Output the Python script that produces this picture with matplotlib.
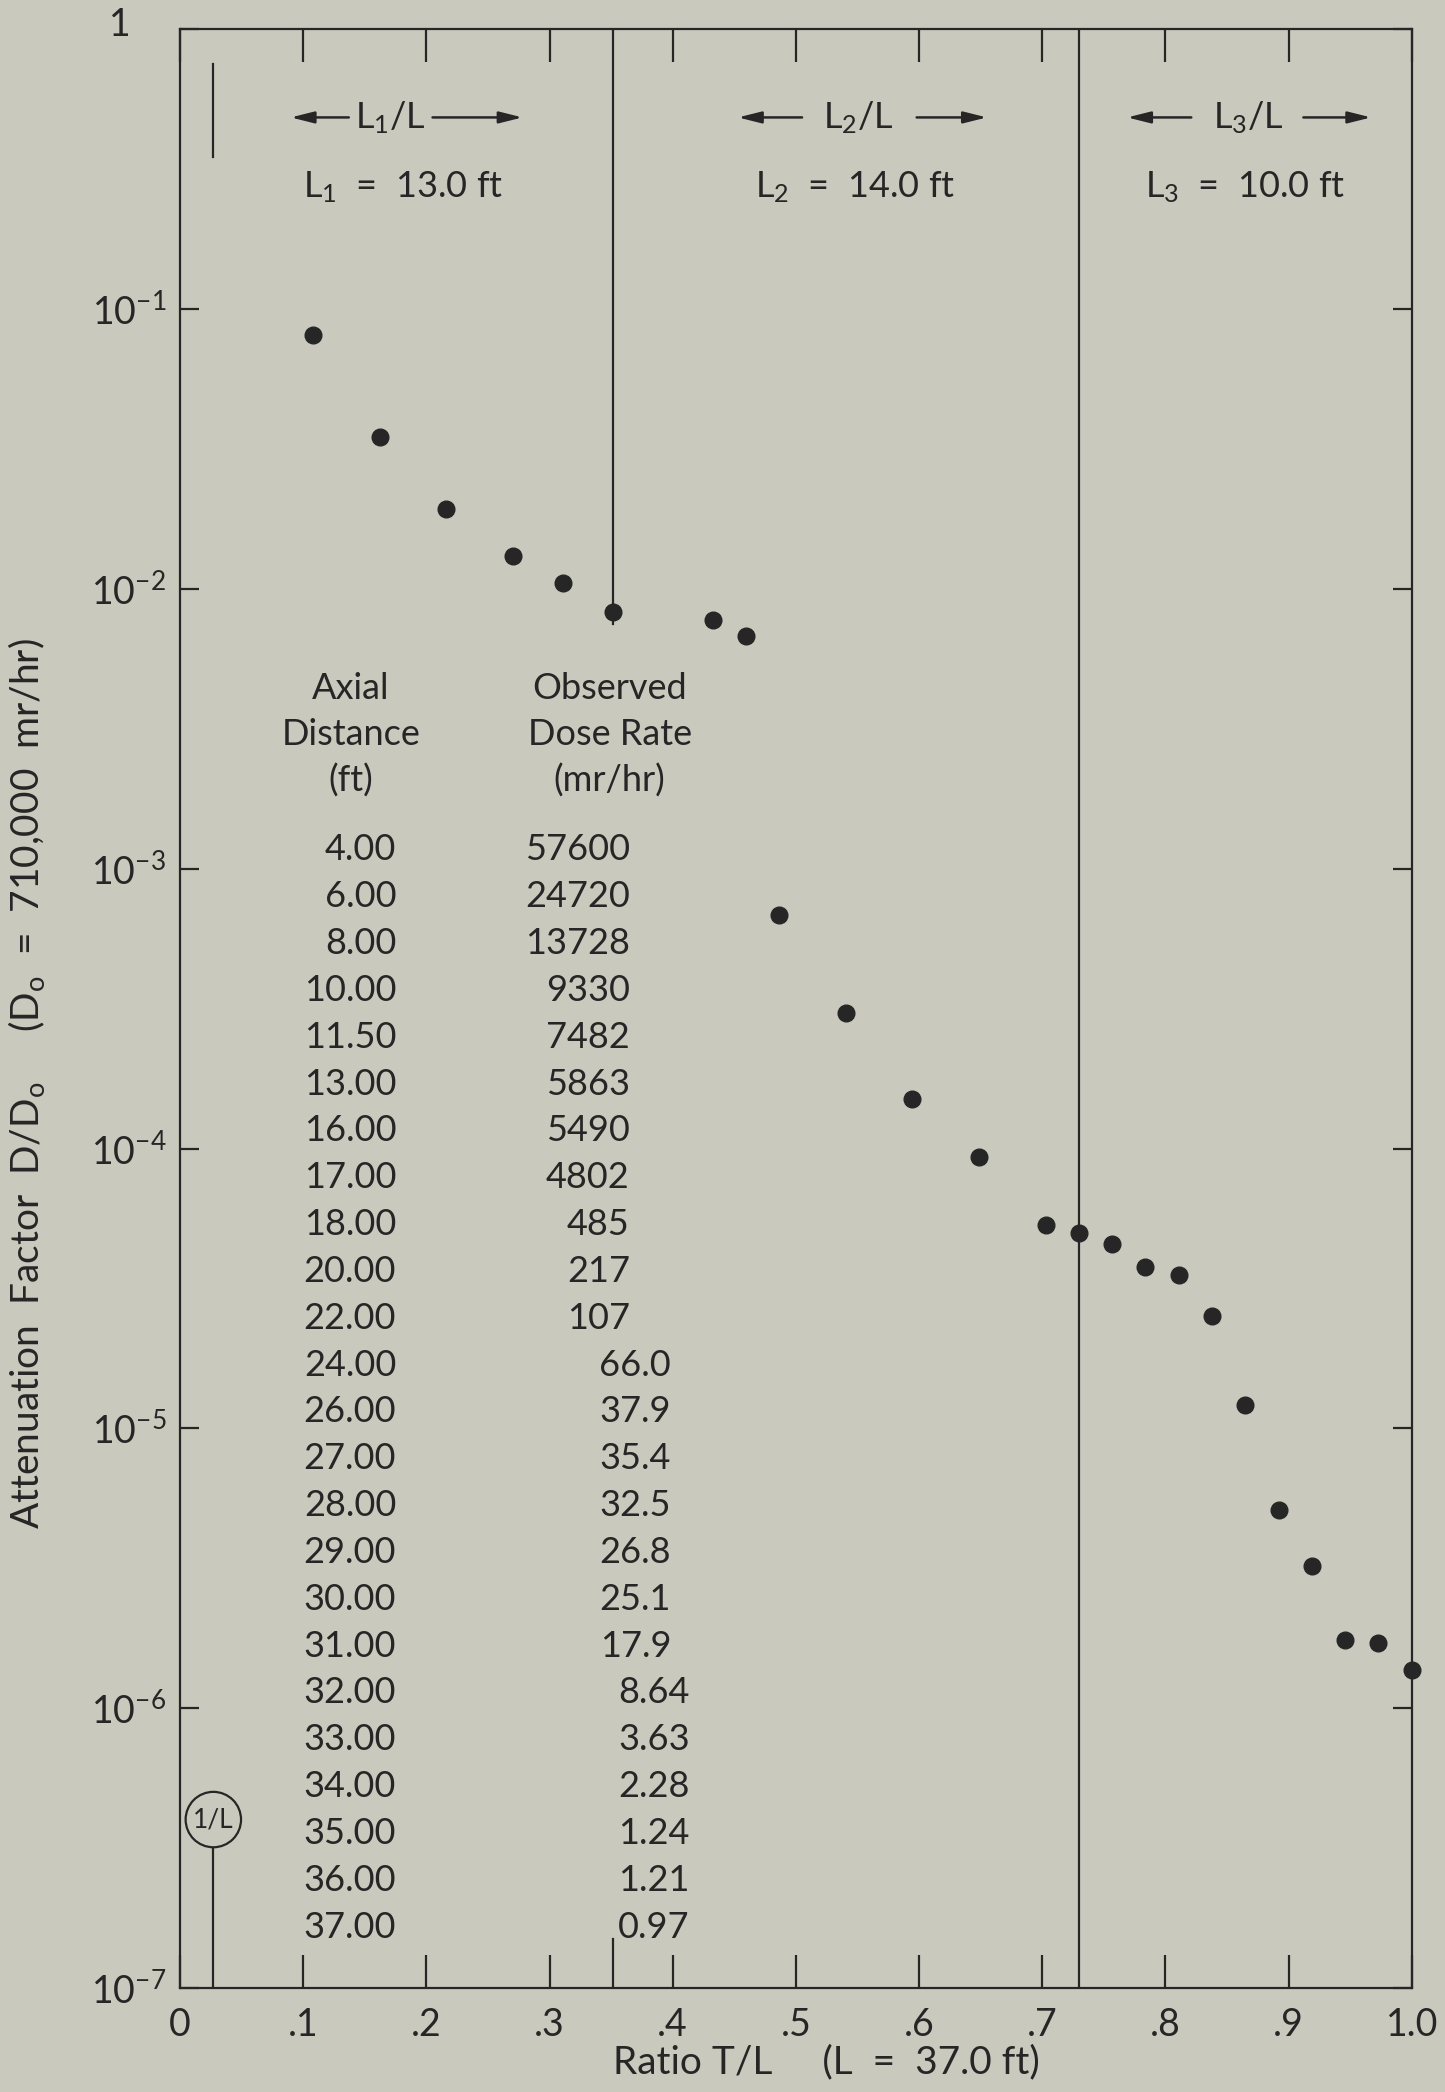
import matplotlib
matplotlib.use("Agg")
import matplotlib.pyplot as plt

plt.rcParams['font.family'] = ['Lato', 'DejaVu Sans']
plt.rcParams['mathtext.default'] = 'regular'

# Measurement data
axial_ft = [4.00, 6.00, 8.00, 10.00, 11.50, 13.00, 16.00, 17.00, 18.00, 20.00,
            22.00, 24.00, 26.00, 27.00, 28.00, 29.00, 30.00, 31.00, 32.00, 33.00,
            34.00, 35.00, 36.00, 37.00]
dose_rate_text = ["57600", "24720", "13728", "9330", "7482", "5863", "5490", "4802",
                  "485", "217", "107", "66.0", "37.9", "35.4", "32.5", "26.8",
                  "25.1", "17.9", "8.64", "3.63", "2.28", "1.24", "1.21", "0.97"]
dose_rate = [float(s) for s in dose_rate_text]

L_total = 37.0          # ft
D0 = 710000.0           # mr/hr
section_lengths = [13.0, 14.0, 10.0]
section_names = ["1", "2", "3"]

x_ticks = [0, 0.1, 0.2, 0.3, 0.4, 0.5, 0.6, 0.7, 0.8, 0.9, 1.0]
x_tick_labels = ["0", ".1", ".2", ".3", ".4", ".5", ".6", ".7", ".8", ".9", "1.0"]
y_ticks = [1e-7, 1e-6, 1e-5, 1e-4, 1e-3, 1e-2, 1e-1, 1]
y_tick_labels = [r"$10^{-7}$", r"$10^{-6}$", r"$10^{-5}$", r"$10^{-4}$",
                 r"$10^{-3}$", r"$10^{-2}$", r"$10^{-1}$", ""]

BG = "#c9cabd"
INK = "#262626"

ratio = [d / L_total for d in axial_ft]
atten = [r / D0 for r in dose_rate]

fig = plt.figure(figsize=(14.45, 20.92), dpi=100)
fig.patch.set_facecolor(BG)
ax = fig.add_axes([0.1246, 0.0497, 0.977 - 0.1246, 0.986 - 0.0497])
ax.set_facecolor(BG)

ax.set_yscale('log')
ax.set_xlim(0, 1.0)
ax.set_ylim(1e-7, 1)

for s in ax.spines.values():
    s.set_linewidth(1.6)
    s.set_color(INK)

ax.set_xticks(x_ticks)
ax.set_xticklabels(x_tick_labels)
ax.set_yticks(y_ticks)
ax.set_yticklabels(y_tick_labels)
ax.minorticks_off()
ax.tick_params(axis='x', which='major', direction='in', length=24, width=1.6,
               top=True, bottom=True, labelsize=27, pad=14, colors=INK)
ax.tick_params(axis='y', which='major', direction='in', length=14, width=1.6,
               left=True, right=True, labelsize=27, pad=10, colors=INK)
# the top decade is labelled plainly, set further out
ax.text(-0.049, 1.002, "1", transform=ax.transAxes, ha='center', va='center',
        fontsize=27, color=INK)

# data points
ax.plot(ratio, atten, 'o', color=INK, ms=12, zorder=5, clip_on=False)

# section boundaries: first one drawn down to its end-of-section reading,
# with a longer tick marking it on the ratio axis
b1 = section_lengths[0] / L_total
b2 = (section_lengths[0] + section_lengths[1]) / L_total
ax.plot([b1, b1], [1, 7.5e-3], color=INK, lw=1.6)
ax.plot([b1, b1], [1e-7, 1.5e-7], color=INK, lw=1.6)
ax.axvline(b2, color=INK, lw=1.6)

# 1/L markers
x1 = 1.0 / L_total
ax.plot([x1, x1], [0.75, 0.35], color=INK, lw=1.6)
ax.plot([x1, x1], [1e-7, 3.8e-7], color=INK, lw=1.6, zorder=2)
ax.text(x1, 4.0e-7, "1/L", ha='center', va='center', fontsize=19, color=INK, zorder=3,
        bbox=dict(boxstyle='circle,pad=0.28', fc=BG, ec=INK, lw=1.6))

# section headers with arrows
arrow_y = 0.955
label_y = 0.9196
arrow_spans = [(0.0899, 0.137, 0.205, 0.278),
               (0.453, 0.505, 0.598, 0.655),
               (0.769, 0.821, 0.912, 0.967)]
header_x = [0.171, 0.551, 0.867]
value_x = [0.181, 0.548, 0.865]
for name, Ls, (lt, lo, ro, rt), hx, vx in zip(section_names, section_lengths,
                                              arrow_spans, header_x, value_x):
    ap = dict(arrowstyle='-|>,head_length=1.4,head_width=0.35', color=INK, lw=1.8,
              shrinkA=0, shrinkB=0)
    ax.annotate('', xy=(lt, arrow_y), xytext=(lo, arrow_y),
                xycoords='axes fraction', textcoords='axes fraction', arrowprops=ap)
    ax.annotate('', xy=(rt, arrow_y), xytext=(ro, arrow_y),
                xycoords='axes fraction', textcoords='axes fraction', arrowprops=ap)
    ax.text(hx, arrow_y, r"$L_{%s}/L$" % name, transform=ax.transAxes,
            ha='center', va='center', fontsize=26, color=INK)
    ax.text(vx, label_y, r"$L_{%s}$  =  %.1f ft" % (name, Ls), transform=ax.transAxes,
            ha='center', va='center', fontsize=26, color=INK)

# data table
def fx(xs):
    return (xs - 135.0) / 923.0

def fy(ys):
    return 1.0 - (ys - 22.0) / 1468.0

tkw = dict(transform=ax.transAxes, fontsize=26, color=INK, va='center')
for i, line in enumerate(["Axial", "Distance", "(ft)"]):
    ax.text(fx(263), fy(516 + 34.5 * i), line, ha='center', **tkw)
for i, line in enumerate(["Observed", "Dose Rate", "(mr/hr)"]):
    ax.text(fx(457), fy(516 + 34.5 * i), line, ha='center', **tkw)

right_edge = {0: 472, 1: 503, 2: 517}
for i, (d, s) in enumerate(zip(axial_ft, dose_rate_text)):
    ys = 637 + i * 35.1
    ax.text(fx(297), fy(ys), "%.2f" % d, ha='right', **tkw)
    ndec = len(s.split('.')[1]) if '.' in s else 0
    ax.text(fx(right_edge[ndec]), fy(ys), s, ha='right', **tkw)

# axis titles
fig.text(0.572, 0.0143, "Ratio T/L     (L  =  37.0 ft)", ha='center', va='center',
         fontsize=28, color=INK)
fig.text(0.0185, 0.482, r"Attenuation  Factor  D/D$_o$     (D$_o$  =  710,000  mr/hr)",
         rotation=90, ha='center', va='center', fontsize=28, color=INK)

fig.savefig("out.png", dpi=100, facecolor=BG)
